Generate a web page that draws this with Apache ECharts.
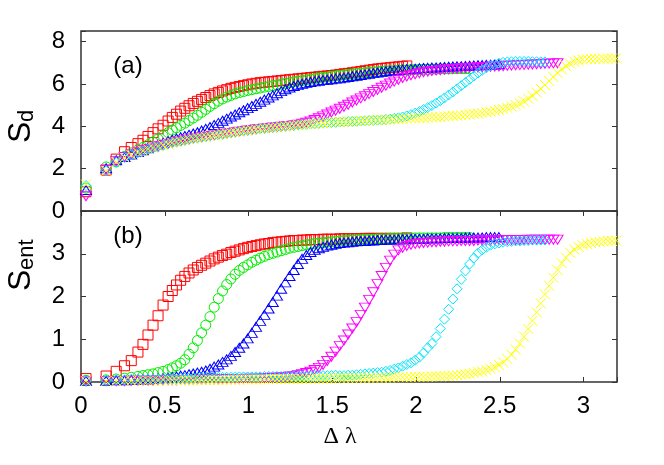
<!DOCTYPE html>
<html>
<head>
<meta charset="utf-8">
<script src="https://cdn.jsdelivr.net/npm/echarts@6/dist/echarts.min.js"></script>
<style>
  html, body { margin: 0; padding: 0; background: #fff; }
  #main { width: 664px; height: 465px; }
</style>
</head>
<body>
<div id="main"></div>
<script>
// shared Δλ sampling, every curve stops at its own length
var lam = [0.03, 0.15, 0.21, 0.26, 0.30, 0.34, 0.37, 0.40, 0.43, 0.46, 0.49, 0.52,
  0.545, 0.57, 0.595, 0.62, 0.645, 0.67, 0.695, 0.72, 0.745, 0.77,
  0.795, 0.82, 0.845, 0.87, 0.895, 0.92, 0.945, 0.97, 0.995, 1.02,
  1.045, 1.07, 1.095, 1.12, 1.145, 1.17, 1.195, 1.22, 1.245, 1.27,
  1.295, 1.32, 1.345, 1.37, 1.395, 1.42, 1.445, 1.47, 1.495, 1.52,
  1.545, 1.57, 1.595, 1.62, 1.645, 1.67, 1.695, 1.72, 1.745, 1.77,
  1.795, 1.82, 1.845, 1.87, 1.895, 1.92, 1.945, 1.97, 1.995, 2.02,
  2.045, 2.07, 2.095, 2.12, 2.145, 2.17, 2.195, 2.22, 2.245, 2.27,
  2.295, 2.32, 2.345, 2.37, 2.395, 2.42, 2.445, 2.47, 2.495, 2.52,
  2.545, 2.57, 2.595, 2.62, 2.645, 2.67, 2.695, 2.72, 2.745, 2.77,
  2.795, 2.82, 2.845, 2.87, 2.895, 2.92, 2.945, 2.97, 2.995, 3.02,
  3.045, 3.07, 3.095, 3.12, 3.145, 3.17, 3.195]

// panel (a): S_d
var sdRed = [0.91, 1.93, 2.45, 2.80, 3.00, 3.18, 3.34, 3.52, 3.70, 3.88, 4.05, 4.25,
  4.42, 4.57, 4.72, 4.85, 4.97, 5.08, 5.18, 5.27, 5.36, 5.45,
  5.53, 5.60, 5.67, 5.73, 5.79, 5.84, 5.88, 5.92, 5.96, 6.00,
  6.03, 6.06, 6.08, 6.10, 6.12, 6.14, 6.16, 6.18, 6.20, 6.22,
  6.24, 6.26, 6.28, 6.30, 6.32, 6.34, 6.36, 6.38, 6.40, 6.42,
  6.45, 6.48, 6.50, 6.53, 6.56, 6.59, 6.62, 6.65, 6.68, 6.71,
  6.73, 6.75, 6.77, 6.79, 6.81, 6.83, 6.85]
var sdGreen = [1.08, 2.08, 2.32, 2.58, 2.74, 2.89, 3.00, 3.13, 3.26, 3.40, 3.55, 3.70,
  3.82, 3.93, 4.04, 4.15, 4.27, 4.39, 4.52, 4.66, 4.80, 4.94,
  5.07, 5.19, 5.29, 5.38, 5.46, 5.53, 5.59, 5.64, 5.69, 5.73,
  5.77, 5.81, 5.85, 5.88, 5.92, 5.95, 5.99, 6.03, 6.06, 6.10,
  6.13, 6.16, 6.19, 6.22, 6.25, 6.28, 6.31, 6.33, 6.36, 6.38,
  6.41, 6.43, 6.45, 6.47, 6.49, 6.51, 6.53, 6.55, 6.57, 6.58,
  6.60, 6.61, 6.62, 6.63, 6.64, 6.65, 6.66, 6.67, 6.68, 6.68,
  6.69, 6.69, 6.70, 6.70, 6.71, 6.71, 6.71, 6.72, 6.72, 6.72, 6.72, 6.72]
var sdBlue = [0.99, 2.02, 2.40, 2.55, 2.67, 2.78, 2.87, 2.96, 3.05, 3.14, 3.22, 3.30,
  3.36, 3.42, 3.48, 3.54, 3.60, 3.66, 3.72, 3.80, 3.88, 3.97,
  4.06, 4.16, 4.26, 4.36, 4.46, 4.56, 4.66, 4.76, 4.86, 4.96,
  5.06, 5.16, 5.26, 5.36, 5.46, 5.56, 5.66, 5.75, 5.83, 5.90,
  5.96, 6.01, 6.05, 6.09, 6.12, 6.15, 6.18, 6.20, 6.22, 6.25,
  6.27, 6.30, 6.33, 6.36, 6.39, 6.42, 6.45, 6.48, 6.51, 6.54,
  6.57, 6.60, 6.62, 6.64, 6.66, 6.68, 6.70, 6.71, 6.72, 6.74,
  6.75, 6.76, 6.77, 6.78, 6.79, 6.80, 6.81, 6.82, 6.83, 6.84,
  6.85, 6.86, 6.87, 6.88, 6.89, 6.90, 6.91, 6.92, 6.93]
var sdMagenta = [0.70, 1.95, 2.35, 2.55, 2.67, 2.78, 2.86, 2.93, 3.00, 3.06, 3.12, 3.18,
  3.22, 3.26, 3.30, 3.34, 3.38, 3.42, 3.45, 3.48, 3.51, 3.54,
  3.57, 3.60, 3.63, 3.66, 3.69, 3.72, 3.75, 3.78, 3.80, 3.83,
  3.86, 3.88, 3.90, 3.92, 3.94, 3.96, 3.98, 4.00, 4.02, 4.05,
  4.08, 4.12, 4.17, 4.23, 4.30, 4.38, 4.47, 4.56, 4.65, 4.74,
  4.83, 4.92, 5.02, 5.12, 5.22, 5.32, 5.42, 5.52, 5.62, 5.72,
  5.82, 5.92, 6.02, 6.11, 6.20, 6.28, 6.35, 6.41, 6.46, 6.51,
  6.55, 6.58, 6.61, 6.63, 6.65, 6.67, 6.69, 6.71, 6.72, 6.73,
  6.74, 6.76, 6.77, 6.78, 6.79, 6.80, 6.81, 6.82, 6.83, 6.84,
  6.86, 6.87, 6.88, 6.89, 6.90, 6.91, 6.92, 6.93, 6.94, 6.95, 6.96, 6.97, 6.98]
var sdCyan = [1.20, 1.90, 2.30, 2.52, 2.65, 2.76, 2.84, 2.92, 2.99, 3.05, 3.11, 3.17,
  3.22, 3.26, 3.30, 3.34, 3.38, 3.42, 3.45, 3.48, 3.51, 3.54,
  3.57, 3.60, 3.63, 3.66, 3.69, 3.72, 3.75, 3.78, 3.80, 3.83,
  3.86, 3.88, 3.90, 3.92, 3.94, 3.96, 3.98, 4.00, 4.02, 4.04,
  4.06, 4.08, 4.09, 4.11, 4.12, 4.14, 4.15, 4.17, 4.18, 4.19,
  4.20, 4.21, 4.22, 4.23, 4.24, 4.25, 4.26, 4.27, 4.28, 4.29,
  4.30, 4.32, 4.34, 4.37, 4.40, 4.44, 4.49, 4.55, 4.62, 4.70,
  4.79, 4.88, 4.98, 5.09, 5.21, 5.34, 5.48, 5.62, 5.77, 5.92,
  6.07, 6.22, 6.37, 6.51, 6.64, 6.76, 6.86, 6.93, 6.98, 7.02,
  7.04, 7.05, 7.06, 7.06, 7.06, 7.06, 7.05, 7.05, 7.04, 7.04]
var sdYellow = [1.25, 1.90, 2.30, 2.52, 2.65, 2.76, 2.84, 2.92, 2.99, 3.05, 3.11, 3.17,
  3.22, 3.26, 3.30, 3.34, 3.38, 3.42, 3.45, 3.48, 3.51, 3.54,
  3.57, 3.60, 3.63, 3.66, 3.69, 3.72, 3.75, 3.78, 3.80, 3.83,
  3.86, 3.88, 3.90, 3.92, 3.94, 3.96, 3.98, 4.00, 4.02, 4.04,
  4.06, 4.08, 4.09, 4.11, 4.12, 4.14, 4.15, 4.17, 4.18, 4.19,
  4.20, 4.21, 4.22, 4.23, 4.24, 4.25, 4.26, 4.27, 4.28, 4.29,
  4.30, 4.31, 4.32, 4.33, 4.34, 4.35, 4.36, 4.37, 4.38, 4.39,
  4.40, 4.41, 4.42, 4.43, 4.44, 4.46, 4.47, 4.49, 4.50, 4.52,
  4.54, 4.56, 4.58, 4.60, 4.63, 4.66, 4.69, 4.73, 4.77, 4.82,
  4.87, 4.93, 5.00, 5.08, 5.18, 5.30, 5.44, 5.60, 5.77, 5.95,
  6.14, 6.33, 6.52, 6.69, 6.84, 6.96, 7.05, 7.11, 7.15, 7.17,
  7.18, 7.19, 7.19, 7.19, 7.20, 7.20, 7.20]

// panel (b): S_ent
var seRed = [0.08, 0.14, 0.25, 0.38, 0.50, 0.70, 0.88, 1.10, 1.33, 1.55, 1.80, 2.00,
  2.14, 2.27, 2.38, 2.47, 2.55, 2.62, 2.68, 2.73, 2.78, 2.83,
  2.88, 2.92, 2.96, 2.99, 3.03, 3.06, 3.09, 3.12, 3.15, 3.17,
  3.19, 3.21, 3.23, 3.24, 3.26, 3.27, 3.28, 3.29, 3.30, 3.31,
  3.31, 3.32, 3.32, 3.33, 3.33, 3.33, 3.34, 3.34, 3.34, 3.34,
  3.35, 3.35, 3.35, 3.35, 3.35, 3.35, 3.36, 3.36, 3.36, 3.36,
  3.36, 3.36, 3.36, 3.36, 3.36, 3.36, 3.37]
var seGreen = [0.04, 0.05, 0.07, 0.09, 0.11, 0.13, 0.15, 0.17, 0.19, 0.22, 0.25, 0.29,
  0.33, 0.38, 0.44, 0.52, 0.65, 0.80, 0.97, 1.15, 1.33, 1.53,
  1.75, 1.95, 2.13, 2.28, 2.41, 2.52, 2.61, 2.68, 2.74, 2.80,
  2.85, 2.90, 2.94, 2.98, 3.01, 3.04, 3.07, 3.10, 3.13, 3.15,
  3.17, 3.19, 3.21, 3.22, 3.24, 3.25, 3.26, 3.27, 3.28, 3.29,
  3.30, 3.31, 3.32, 3.32, 3.33, 3.33, 3.34, 3.34, 3.34, 3.35,
  3.35, 3.35, 3.36, 3.36, 3.36, 3.36, 3.36, 3.37, 3.37, 3.37,
  3.37, 3.37, 3.37, 3.37, 3.37, 3.38, 3.38, 3.38, 3.38, 3.38, 3.38, 3.38]
var seBlue = [0.03, 0.03, 0.04, 0.04, 0.05, 0.05, 0.06, 0.06, 0.07, 0.08, 0.09, 0.10,
  0.11, 0.13, 0.15, 0.16, 0.18, 0.20, 0.22, 0.24, 0.27, 0.31,
  0.36, 0.41, 0.47, 0.53, 0.61, 0.70, 0.80, 0.90, 1.02, 1.15,
  1.29, 1.43, 1.57, 1.72, 1.87, 2.02, 2.18, 2.33, 2.48, 2.62,
  2.76, 2.88, 2.97, 3.04, 3.09, 3.13, 3.16, 3.19, 3.21, 3.23,
  3.25, 3.26, 3.27, 3.28, 3.29, 3.30, 3.30, 3.31, 3.31, 3.32,
  3.32, 3.33, 3.33, 3.33, 3.34, 3.34, 3.34, 3.35, 3.35, 3.35,
  3.35, 3.36, 3.36, 3.36, 3.36, 3.37, 3.37, 3.37, 3.37, 3.37,
  3.38, 3.38, 3.38, 3.38, 3.38, 3.39, 3.39, 3.39, 3.39]
var seMagenta = [0.01, 0.02, 0.02, 0.02, 0.03, 0.03, 0.03, 0.03, 0.03, 0.04, 0.04, 0.04,
  0.04, 0.04, 0.05, 0.05, 0.05, 0.05, 0.05, 0.06, 0.06, 0.06,
  0.06, 0.06, 0.07, 0.07, 0.07, 0.07, 0.07, 0.07, 0.08, 0.08,
  0.08, 0.08, 0.09, 0.09, 0.10, 0.10, 0.11, 0.12, 0.13, 0.14,
  0.16, 0.18, 0.21, 0.24, 0.28, 0.33, 0.40, 0.49, 0.59, 0.71,
  0.84, 0.97, 1.11, 1.25, 1.40, 1.57, 1.74, 1.92, 2.10, 2.29,
  2.48, 2.67, 2.84, 2.98, 3.08, 3.14, 3.18, 3.21, 3.23, 3.24,
  3.25, 3.26, 3.27, 3.27, 3.28, 3.28, 3.29, 3.29, 3.29, 3.30,
  3.30, 3.30, 3.30, 3.31, 3.31, 3.31, 3.31, 3.31, 3.32, 3.32,
  3.32, 3.32, 3.32, 3.32, 3.32, 3.33, 3.33, 3.33, 3.33, 3.33, 3.33, 3.33, 3.33]
var seCyan = [0.03, 0.04, 0.05, 0.05, 0.06, 0.06, 0.06, 0.07, 0.07, 0.07, 0.08, 0.08,
  0.08, 0.08, 0.09, 0.09, 0.09, 0.09, 0.10, 0.10, 0.10, 0.10,
  0.10, 0.11, 0.11, 0.11, 0.11, 0.11, 0.12, 0.12, 0.12, 0.12,
  0.12, 0.12, 0.13, 0.13, 0.13, 0.13, 0.13, 0.13, 0.14, 0.14,
  0.14, 0.14, 0.14, 0.14, 0.15, 0.15, 0.15, 0.15, 0.15, 0.16,
  0.15, 0.15, 0.16, 0.16, 0.17, 0.18, 0.19, 0.20, 0.21, 0.22,
  0.23, 0.25, 0.27, 0.30, 0.33, 0.37, 0.41, 0.45, 0.51, 0.58,
  0.68, 0.80, 0.90, 1.06, 1.25, 1.47, 1.70, 1.94, 2.18, 2.40,
  2.60, 2.76, 2.90, 3.01, 3.09, 3.15, 3.20, 3.23, 3.25, 3.27,
  3.28, 3.29, 3.30, 3.30, 3.31, 3.31, 3.32, 3.32, 3.32, 3.32]
var seYellow = [0.02, 0.02, 0.02, 0.03, 0.03, 0.03, 0.03, 0.03, 0.03, 0.03, 0.04, 0.04,
  0.04, 0.04, 0.04, 0.04, 0.04, 0.04, 0.05, 0.05, 0.05, 0.05,
  0.05, 0.05, 0.05, 0.05, 0.05, 0.06, 0.06, 0.06, 0.06, 0.06,
  0.06, 0.06, 0.06, 0.06, 0.07, 0.07, 0.07, 0.07, 0.07, 0.07,
  0.07, 0.07, 0.08, 0.08, 0.08, 0.08, 0.08, 0.08, 0.08, 0.08,
  0.09, 0.09, 0.09, 0.09, 0.09, 0.09, 0.09, 0.10, 0.10, 0.10,
  0.10, 0.10, 0.10, 0.11, 0.11, 0.11, 0.11, 0.11, 0.12, 0.12,
  0.12, 0.12, 0.13, 0.13, 0.13, 0.14, 0.14, 0.15, 0.16, 0.17,
  0.18, 0.19, 0.21, 0.23, 0.25, 0.28, 0.31, 0.35, 0.40, 0.46,
  0.54, 0.64, 0.76, 0.90, 1.06, 1.24, 1.43, 1.63, 1.84, 2.05,
  2.25, 2.44, 2.62, 2.78, 2.91, 3.02, 3.10, 3.16, 3.20, 3.23,
  3.25, 3.27, 3.28, 3.29, 3.30, 3.30, 3.31]

var FONT = '"Liberation Sans", Arial, sans-serif'
var FRAME = '#333'

var marks = [
  { color: '#ff0000', symbol: 'rect', size: 10, sd: sdRed, se: seRed },
  { color: '#00ee00', symbol: 'circle', size: 10, sd: sdGreen, se: seGreen },
  { color: '#0000ff', symbol: 'triangle', size: [11, 9], sd: sdBlue, se: seBlue },
  { color: '#ff00ff', symbol: 'triangle', size: [11, 9], rotate: 180, sd: sdMagenta, se: seMagenta },
  { color: '#00e5ff', symbol: 'diamond', size: 10, sd: sdCyan, se: seCyan },
  { color: '#ffff00', symbol: 'path://M0,0L10,10M10,0L0,10', size: 10, sd: sdYellow, se: seYellow }
]

function pairs (ys) {
  return ys.map(function (y, i) { return [lam[i], y] })
}

var series = []
;[0, 1].forEach(function (panel) {
  marks.forEach(function (m) {
    series.push({
      type: 'scatter',
      xAxisIndex: panel,
      yAxisIndex: panel,
      symbol: m.symbol,
      symbolSize: m.size,
      symbolRotate: m.rotate || 0,
      itemStyle: { color: 'rgba(0,0,0,0)', borderColor: m.color, borderWidth: 1, opacity: 1 },
      emphasis: { disabled: true },
      data: pairs(panel === 0 ? m.sd : m.se)
    })
  })
})

function tickAxis (extra) {
  var base = {
    type: 'value',
    axisLine: { show: false },
    axisTick: { show: true, inside: true, length: 5, lineStyle: { color: FRAME, width: 1 } },
    axisLabel: { show: false },
    splitLine: { show: false }
  }
  return Object.assign(base, extra)
}

var chart = echarts.init(document.getElementById('main'), null, { renderer: 'canvas' })
chart.setOption({
  animation: false,
  backgroundColor: '#fff',
  grid: [
    { left: 81, top: 31, width: 536, height: 180, show: true, borderColor: FRAME, borderWidth: 1.5, backgroundColor: 'transparent', outerBoundsMode: 'none', containLabel: false },
    { left: 81, top: 211, width: 536, height: 171, show: true, borderColor: FRAME, borderWidth: 1.5, backgroundColor: 'transparent', outerBoundsMode: 'none', containLabel: false }
  ],
  xAxis: [
    tickAxis({ gridIndex: 0, position: 'top', min: 0, max: 3.2, interval: 0.5 }),
    tickAxis({
      gridIndex: 1,
      position: 'bottom',
      min: 0,
      max: 3.2,
      interval: 0.5,
      axisLabel: {
        show: true,
        margin: 12,
        fontSize: 24,
        fontFamily: FONT,
        color: '#000',
        formatter: function (v) { return v > 3.1 ? '' : String(v) }
      }
    })
  ],
  yAxis: [
    tickAxis({
      gridIndex: 0,
      position: 'left',
      min: 0,
      max: 8.5,
      interval: 2,
      axisLabel: {
        show: true,
        margin: 16,
        fontSize: 24,
        fontFamily: FONT,
        color: '#000',
        formatter: function (v) { return v % 2 === 0 ? String(v) : '' }
      }
    }),
    tickAxis({
      gridIndex: 1,
      position: 'left',
      min: 0,
      max: 4,
      interval: 1,
      axisLabel: {
        show: true,
        margin: 16,
        fontSize: 24,
        fontFamily: FONT,
        color: '#000',
        formatter: function (v) { return v < 3.5 ? String(v) : '' }
      }
    }),
    tickAxis({ gridIndex: 0, position: 'right', min: 0, max: 8.5, interval: 2 }),
    tickAxis({ gridIndex: 1, position: 'right', min: 0, max: 4, interval: 1 })
  ],
  graphic: [
    { type: 'text', x: 128, y: 66, style: { text: '(a)', font: '24px ' + FONT, fill: '#000', align: 'center', verticalAlign: 'middle' } },
    { type: 'text', x: 128, y: 236, style: { text: '(b)', font: '24px ' + FONT, fill: '#000', align: 'center', verticalAlign: 'middle' } },
    { type: 'text', x: 340, y: 437, style: { text: 'Δ λ', font: '24px "Liberation Serif", serif', fill: '#000', align: 'center', verticalAlign: 'middle' } },
    {
      type: 'group',
      x: 21,
      y: 127,
      rotation: Math.PI / 2,
      children: [
        { type: 'text', x: -16, y: 0, style: { text: 'S', font: '32px ' + FONT, fill: '#000', align: 'left', verticalAlign: 'middle' } },
        { type: 'text', x: 5, y: 6, style: { text: 'd', font: '22px ' + FONT, fill: '#000', align: 'left', verticalAlign: 'middle' } }
      ]
    },
    {
      type: 'group',
      x: 21,
      y: 265,
      rotation: Math.PI / 2,
      children: [
        { type: 'text', x: -26, y: 0, style: { text: 'S', font: '32px ' + FONT, fill: '#000', align: 'left', verticalAlign: 'middle' } },
        { type: 'text', x: -5, y: 6, style: { text: 'ent', font: '22px ' + FONT, fill: '#000', align: 'left', verticalAlign: 'middle' } }
      ]
    }
  ],
  series: series
})
</script>
</body>
</html>
